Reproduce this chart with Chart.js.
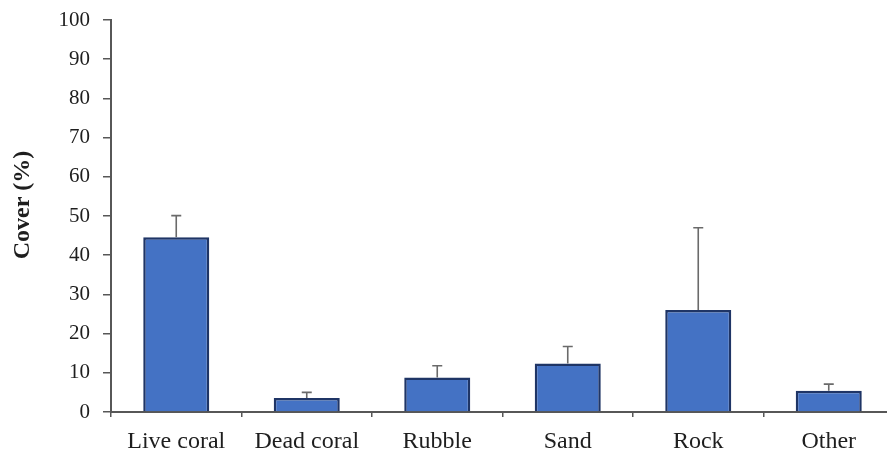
<!DOCTYPE html>
<html>
<head>
<meta charset="utf-8">
<script src="https://cdn.jsdelivr.net/npm/chart.js@4/dist/chart.umd.min.js"></script>
<style>
  html, body { margin: 0; padding: 0; background: #ffffff; overflow: hidden; }
  #wrap { width: 894px; height: 457px; }
</style>
</head>
<body>
<div id="wrap"><canvas id="c" width="894" height="457"></canvas></div>
<script>
// Substrate categories and mean cover (%) with upper error (SD)
const categories = ['Live coral', 'Dead coral', 'Rubble', 'Sand', 'Rock', 'Other'];
const meanCover = [44.6, 3.6, 8.8, 12.4, 26.0, 5.4];
const errorUp = [5.5, 1.4, 3.0, 4.3, 21.0, 1.7];
const yTicks = [0, 10, 20, 30, 40, 50, 60, 70, 80, 90, 100];
const yTitle = 'Cover (%)';

const AXIS = '#575757';
const TEXT = '#1e1e1e';
const SERIF = '"Liberation Serif", "Times New Roman", serif';

// Upper error whiskers, positioned through the chart's own scales
const errorBars = {
  id: 'errorBars',
  afterDatasetsDraw(chart) {
    const { ctx, scales: { x, y } } = chart;
    ctx.save();
    ctx.strokeStyle = '#6a6a6a';
    ctx.lineWidth = 1.6;
    meanCover.forEach((v, i) => {
      const cx = x.getPixelForValue(i);
      const yTop = y.getPixelForValue(v + errorUp[i]);
      const yBar = y.getPixelForValue(v);
      ctx.beginPath();
      ctx.moveTo(cx, yBar);
      ctx.lineTo(cx, yTop);
      ctx.moveTo(cx - 5, yTop);
      ctx.lineTo(cx + 5, yTop);
      ctx.stroke();
    });
    ctx.restore();
  }
};

// Rotated y-axis title
const sideTitle = {
  id: 'sideTitle',
  afterDraw(chart) {
    const { ctx } = chart;
    ctx.save();
    ctx.translate(23, 205);
    ctx.rotate(-Math.PI / 2);
    ctx.font = 'bold 24px ' + SERIF;
    ctx.fillStyle = TEXT;
    ctx.textAlign = 'center';
    ctx.textBaseline = 'middle';
    ctx.fillText(yTitle, 0, 0);
    ctx.restore();
  }
};

new Chart(document.getElementById('c'), {
  type: 'bar',
  data: {
    labels: categories,
    datasets: [{
      data: meanCover,
      backgroundColor: '#4472C4',
      borderColor: '#1F3566',
      borderWidth: 2.5,
      barPercentage: 0.506,
      categoryPercentage: 1.0
    }]
  },
  options: {
    responsive: false,
    animation: false,
    devicePixelRatio: 1,
    layout: { padding: { top: 20, right: 0, bottom: 0, left: 0 } },
    plugins: { legend: { display: false }, tooltip: { enabled: false } },
    scales: {
      x: {
        offset: true,
        grid: { offset: true, drawOnChartArea: false, drawTicks: true, tickLength: 5, color: AXIS, lineWidth: 1.5 },
        border: { color: AXIS, width: 2 },
        ticks: { color: TEXT, font: { family: SERIF, size: 24 }, padding: 10, maxRotation: 0 },
        afterFit(scale) { scale.height = 45; scale.paddingLeft = 0; scale.paddingRight = 0; }
      },
      y: {
        min: 0,
        max: 100,
        afterBuildTicks(scale) { scale.ticks = yTicks.map(v => ({ value: v })); },
        grid: { drawOnChartArea: false, drawTicks: true, tickLength: 8, color: AXIS, lineWidth: 1.5 },
        border: { color: AXIS, width: 2 },
        ticks: { color: TEXT, font: { family: SERIF, size: 21 }, padding: 13 },
        afterFit(scale) { scale.width = 111; scale.paddingTop = 0; scale.paddingBottom = 0; }
      }
    }
  },
  plugins: [errorBars, sideTitle]
});
</script>
</body>
</html>
